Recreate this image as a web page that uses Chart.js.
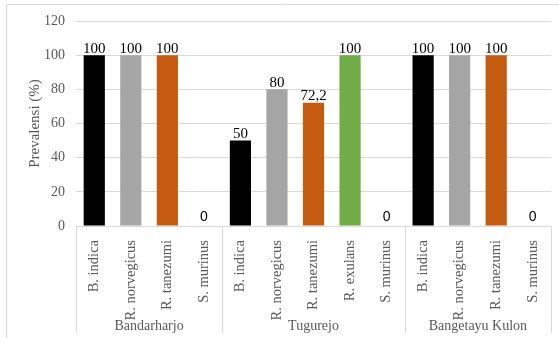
<!DOCTYPE html>
<html>
<head>
<meta charset="utf-8">
<script src="https://cdn.jsdelivr.net/npm/chart.js@4"></script>
<style>
  body { margin: 0; background: #fff; }
  #wrap { width: 559px; height: 338px; position: relative; }
</style>
</head>
<body>
<div id="wrap"><canvas id="chart"></canvas></div>
<script>
// data
const species = [
  "B. indica", "R. norvegicus", "R. tanezumi", "S. murinus",
  "B. indica", "R. norvegicus", "R. tanezumi", "R. exulans", "S. murinus",
  "B. indica", "R. norvegicus", "R. tanezumi", "S. murinus"
];
const prevalence = [100, 100, 100, 0, 50, 80, 72.2, 100, 0, 100, 100, 100, 0];
const groupNames = ["Bandarharjo", "Tugurejo", "Bangetayu Kulon"];
const groupSizes = [4, 5, 4];
const yTicks = [0, 20, 40, 60, 80, 100, 120];

const speciesColors = {
  "B. indica": "#000000",
  "R. norvegicus": "#a5a5a5",
  "R. tanezumi": "#c55a11",
  "R. exulans": "#70ad47",
  "S. murinus": "#7f7f7f"
};

const GRID = "#d9d9d9";
const TEXT = "#595959";
const SERIF = "'Liberation Serif', 'Times New Roman', serif";

// frame, group separators and group names under the axis
const groupsPlugin = {
  id: "groups",
  beforeDraw(chart) {
    const ctx = chart.ctx;
    ctx.save();
    ctx.fillStyle = "#fff";
    ctx.fillRect(0, 0, chart.width, chart.height);
    ctx.strokeStyle = GRID;
    ctx.lineWidth = 1;
    ctx.beginPath();
    ctx.moveTo(6.5, chart.height);
    ctx.lineTo(6.5, 4.5);
    ctx.lineTo(chart.width, 4.5);
    ctx.stroke();
    ctx.restore();
  },
  afterDraw(chart) {
    const ctx = chart.ctx;
    const x = chart.scales.x;
    const top = chart.chartArea.bottom;
    const half = (x.getPixelForValue(1) - x.getPixelForValue(0)) / 2;
    ctx.save();
    ctx.strokeStyle = GRID;
    ctx.lineWidth = 1;
    let start = 0;
    const edges = [x.getPixelForValue(0) - half];
    groupNames.forEach((name, i) => {
      const end = start + groupSizes[i] - 1;
      const left = x.getPixelForValue(start) - half;
      const right = x.getPixelForValue(end) + half;
      edges.push(right);
      ctx.fillStyle = TEXT;
      ctx.font = "14px " + SERIF;
      ctx.textAlign = "center";
      ctx.textBaseline = "middle";
      ctx.fillText(name, (left + right) / 2, 326);
      start = end + 1;
    });
    edges.forEach((e) => {
      const px = Math.round(e) + 0.5;
      ctx.beginPath();
      ctx.moveTo(px, top);
      ctx.lineTo(px, 333);
      ctx.stroke();
    });
    ctx.restore();
  }
};

// value labels above the bars
const valuePlugin = {
  id: "values",
  afterDatasetsDraw(chart) {
    const ctx = chart.ctx;
    const meta = chart.getDatasetMeta(0);
    ctx.save();
    ctx.fillStyle = "#000";
    ctx.textAlign = "center";
    ctx.textBaseline = "bottom";
    meta.data.forEach((bar, i) => {
      const v = prevalence[i];
      const txt = String(v).replace(".", ",");
      if (v === 0) {
        ctx.font = "14px 'Liberation Sans', Arial, sans-serif";
        ctx.fillText(txt, bar.x, bar.y - 2);
      } else {
        ctx.font = "15px " + SERIF;
        ctx.fillText(txt, bar.x, bar.y + 1);
      }
    });
    ctx.restore();
  }
};

new Chart(document.getElementById("chart"), {
  type: "bar",
  data: {
    labels: species,
    datasets: [
      {
        data: prevalence,
        backgroundColor: species.map((s) => speciesColors[s]),
        barPercentage: 0.58,
        categoryPercentage: 1
      }
    ]
  },
  options: {
    responsive: true,
    maintainAspectRatio: false,
    animation: false,
    layout: { padding: { left: 6, top: 21, right: 8, bottom: 0 } },
    plugins: { legend: { display: false }, tooltip: { enabled: false } },
    scales: {
      x: {
        grid: { display: false },
        border: { display: true, color: GRID },
        ticks: {
          color: TEXT,
          font: { family: SERIF, size: 14.5 },
          minRotation: 90,
          maxRotation: 90,
          autoSkip: false,
          padding: 6
        },
        afterFit(scale) { scale.height = 112; }
      },
      y: {
        min: 0,
        max: 120,
        afterBuildTicks(scale) { scale.ticks = yTicks.map((v) => ({ value: v })); },
        grid: { color: GRID, drawTicks: false },
        border: { display: false },
        ticks: {
          color: TEXT,
          font: { family: SERIF, size: 14 },
          padding: 11
        },
        title: {
          display: true,
          text: "Prevalensi (%)",
          color: TEXT,
          font: { family: SERIF, size: 15 },
          padding: { top: 20, bottom: 0 }
        },
        afterFit(scale) { scale.width = 70; }
      }
    }
  },
  plugins: [groupsPlugin, valuePlugin]
});
</script>
</body>
</html>
